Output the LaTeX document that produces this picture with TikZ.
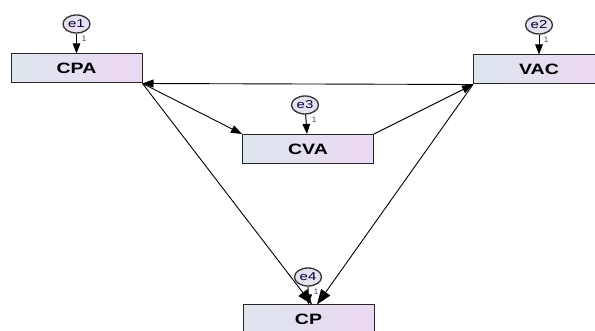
\documentclass[tikz,border=0pt]{standalone}
\usepackage{fontspec}
\setmainfont{Liberation Sans}
\usetikzlibrary{shapes,arrows.meta,positioning,calc}
\definecolor{boxleft}{RGB}{222,230,237}
\definecolor{boxright}{RGB}{235,216,242}
\definecolor{errfill}{RGB}{232,225,240}
\definecolor{onecol}{RGB}{95,40,125}
\newcommand{\wide}[1]{\scalebox{1.3}[1]{#1}}
\tikzset{
  >={Triangle[length=11pt,width=8pt]},
  var/.style={draw=black!85,line width=1pt,left color=boxleft,right color=boxright,minimum width=131pt,minimum height=29pt,inner sep=0pt,font=\fontsize{15}{17}\selectfont\bfseries},
  err/.style={draw=black!80,ellipse,line width=1.3pt,fill=errfill,minimum width=27pt,minimum height=18pt,inner sep=0pt,font=\fontsize{11.5}{13}\selectfont,text=black!80!blue},
  path/.style={->,line width=0.9pt},
  erra/.style={-{Triangle[length=10pt,width=7.5pt]},line width=1pt},
  big/.style={->,>={Triangle[length=15pt,width=11pt]},line width=0.9pt},
  one/.style={font=\fontsize{8}{9}\selectfont,text=onecol,inner sep=0pt}
}
\begin{document}
\begin{tikzpicture}[x=1pt,y=-1pt]
\useasboundingbox (0,0) rectangle (595,331);
\node[var](cpa)at(76.5,68.5){\wide{CPA}};
\node[var](vac)at(539,69.5){\wide{VAC}};
\node[var](cva)at(308,149){\wide{CVA}};
\node[var](cp)at(308.5,319.5){\wide{CP}};
\node[err](e1)at(76.5,24){\wide{e1}};
\node[err](e2)at(539,25){\wide{e2}};
\node[err](e3)at(305,105){\wide{e3}};
\node[err](e4)at(308,277){\wide{e4}};
\draw[erra](e1)--(cpa);\draw[erra](e2)--(vac);
\draw[erra](e3)--(cva);\draw[erra](e4)--(cp);
\node[one]at(84,39){1};\node[one]at(546,40){1};
\node[one]at(314,120){1};\node[one]at(316,292){1};
% structural paths
\draw[path](vac.south west)--(cpa.south east);
\draw[path](cpa.south east)--(cva.north west);
\draw[path](cva.north east)--(vac.south west);
\draw[big](cpa.south east)--([xshift=3.5pt]cp.north);
\draw[big](vac.south west)--([xshift=8.5pt]cp.north);
\end{tikzpicture}
\end{document}
